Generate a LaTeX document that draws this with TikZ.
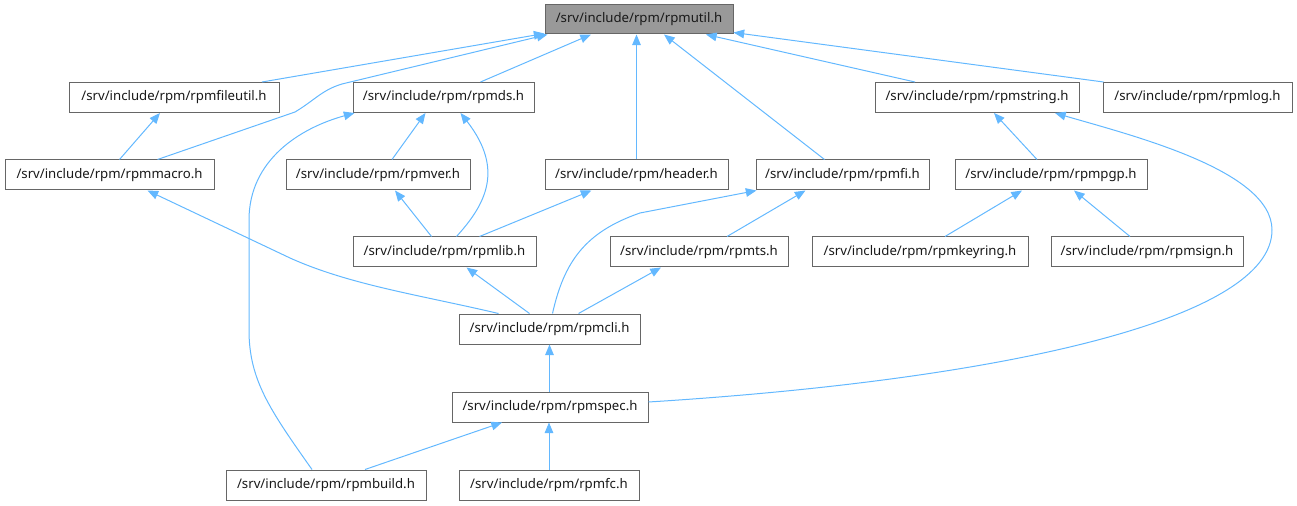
\documentclass[tikz,border=0pt]{standalone}
\usepackage{fontspec}
\setmainfont{Noto Sans}
\usetikzlibrary{arrows.meta,calc}
\definecolor{edgeblue}{HTML}{63B8FF}
\definecolor{boxline}{HTML}{666666}
\definecolor{mainfill}{HTML}{999999}
\begin{document}
\begin{tikzpicture}[x=0.75pt,y=-0.75pt,
  box/.style={draw=boxline, line width=0.75pt, fill=white, inner sep=0pt,
    minimum height=22.5pt, text=black!90, font=\fontsize{9.9}{12}\selectfont},
  bw/.style={minimum width=#1*0.75pt},
  edge/.style={draw=edgeblue, line width=0.75pt,
    -{Triangle[length=8pt,width=6.5pt]}}]
\useasboundingbox (0,0) rectangle (1297,506);
% nodes
\node[box,bw=188,fill=mainfill,minimum height=21.75pt] (util) at (639,19.5) {/srv/include/rpm/rpmutil.h};
\node[box,bw=210] (fileutil) at (174,97.5) {/srv/include/rpm/rpmfileutil.h};
\node[box,bw=181] (ds) at (443.5,97.5) {/srv/include/rpm/rpmds.h};
\node[box,bw=204] (string) at (977,97.5) {/srv/include/rpm/rpmstring.h};
\node[box,bw=189] (log) at (1197.5,97.5) {/srv/include/rpm/rpmlog.h};
\node[box,bw=209] (macro) at (109.5,175) {/srv/include/rpm/rpmmacro.h};
\node[box,bw=184] (ver) at (378,175) {/srv/include/rpm/rpmver.h};
\node[box,bw=183] (header) at (636.5,175) {/srv/include/rpm/header.h};
\node[box,bw=173] (fi) at (842.5,175) {/srv/include/rpm/rpmfi.h};
\node[box,bw=192] (pgp) at (1051,175) {/srv/include/rpm/rpmpgp.h};
\node[box,bw=183] (lib) at (444.5,252) {/srv/include/rpm/rpmlib.h};
\node[box,bw=178] (ts) at (699,252) {/srv/include/rpm/rpmts.h};
\node[box,bw=216] (keyring) at (920,252) {/srv/include/rpm/rpmkeyring.h};
\node[box,bw=192] (sign) at (1147,252) {/srv/include/rpm/rpmsign.h};
\node[box,bw=181] (cli) at (549.5,329) {/srv/include/rpm/rpmcli.h};
\node[box,bw=196] (spec) at (550,407) {/srv/include/rpm/rpmspec.h};
\node[box,bw=200] (build) at (326,485) {/srv/include/rpm/rpmbuild.h};
\node[box,bw=180] (fc) at (549,485) {/srv/include/rpm/rpmfc.h};
% edges to rpmutil
\draw[edge] ($(fileutil.north)+(88,0)$) -- ($(util.south west)+(0,-1)$);
\draw[edge] ($(macro.north)+(48,0)$) -- (295,112) .. controls (315,100) and (322,90) .. (342,84) -- ($(util.south west)+(3,0)$);
\draw[edge] ($(ds.north)+(37,0)$) -- ($(util.south)+(-48,0)$);
\draw[edge] (header.north) -- (header.north |- util.south);
\draw[edge] ($(fi.north)+(-18,0)$) -- ($(util.south)+(25,0)$);
\draw[edge] ($(string.north)+(-62,0)$) -- ($(util.south)+(67,0)$);
\draw[edge] ($(log.north west)+(1,0)$) -- ($(util.south east)+(0,-2)$);
% second level
\draw[edge] ($(macro.north)+(10,0)$) -- ($(fileutil.south)+(-14,0)$);
\draw[edge] ($(ver.north)+(14,0)$) -- ($(ds.south)+(-18,0)$);
\draw[edge] ($(lib.north)+(12,0)$) .. controls (485,205) and (505,170) .. ($(ds.south)+(17,0)$);
\draw[edge] ($(build.north)+(-14,0)$) .. controls (270,410) and (249,380) .. (249,330) -- (249,220) .. controls (249,160) and (300,128) .. ($(ds.south west)+(2,0)$);
\draw[edge] ($(cli.north)+(-51,0)$) .. controls (420,295) and (350,285) .. (290,258) -- ($(macro.south)+(38,0)$);
\draw[edge] ($(lib.north)+(-13,0)$) -- ($(ver.south)+(17,0)$);
\draw[edge] ($(lib.north)+(35,0)$) -- ($(header.south)+(-45,0)$);
\draw[edge] ($(cli.north)+(3,0)$) .. controls (564,262) and (585,232) .. (640,213) -- ($(fi.south west)+(1,0)$);
\draw[edge] ($(ts.north)+(28,0)$) -- ($(fi.south)+(-37,0)$);
\draw[edge] ($(cli.north)+(-20,0)$) -- ($(lib.south)+(22,0)$);
\draw[edge] ($(cli.north)+(29,0)$) -- ($(ts.south)+(-38,0)$);
\draw[edge] ($(pgp.north)+(-14,0)$) -- ($(string.south)+(17,0)$);
\draw[edge] ($(spec.east)+(0,-5)$) .. controls (1000,380) and (1272,320) .. (1272,230) .. controls (1272,170) and (1130,135) .. ($(string.south)+(78,0)$);
\draw[edge] ($(keyring.north)+(25,0)$) -- ($(pgp.south)+(-29,0)$);
\draw[edge] ($(sign.north)+(-17,0)$) -- ($(pgp.south)+(23,0)$);
\draw[edge] (cli.south |- spec.north) -- (cli.south);
\draw[edge] ($(build.north)+(39,0)$) -- ($(spec.south)+(-48,0)$);
\draw[edge] (fc.north) -- (fc.north |- spec.south);
\end{tikzpicture}
\end{document}
